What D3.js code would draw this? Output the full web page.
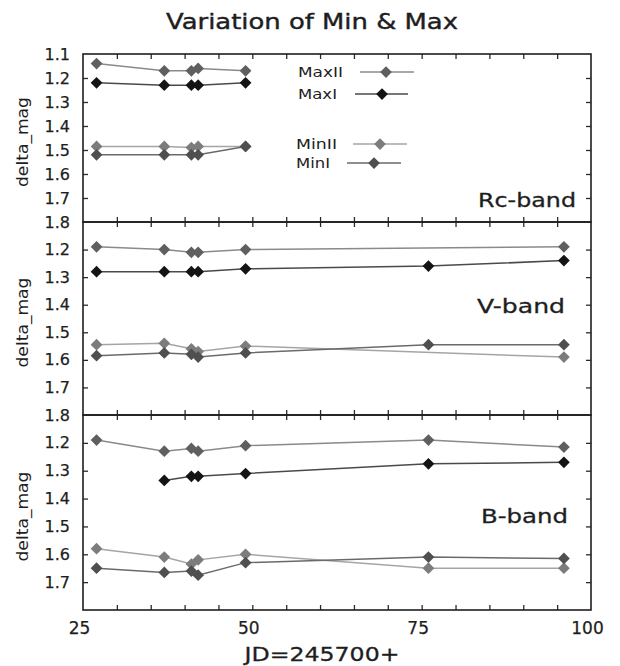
<!DOCTYPE html>
<html>
<head>
<meta charset="utf-8">
<script src="https://cdn.jsdelivr.net/npm/d3@7"></script>
<style>
  body { margin: 0; background: #fff; }
  text { font-family: "DejaVu Sans", sans-serif; fill: #1e1e1e; }
</style>
</head>
<body>
<div id="chart"></div>
<script>
// Observation dates (JD - 2457000)
var jd = [27, 37, 41, 42, 49, 76, 96];

var bandNames = ["Rc-band", "V-band", "B-band"];
var seriesNames = ["MaxII", "MaxI", "MinII", "MinI"];

// Rc-band (no data after JD 49)
var rcMaxII = [1.14, 1.17, 1.17, 1.16, 1.17, null, null];
var rcMaxI  = [1.22, 1.23, 1.23, 1.23, 1.22, null, null];
var rcMinII = [1.485, 1.485, 1.49, 1.485, 1.485, null, null];
var rcMinI  = [1.52, 1.52, 1.52, 1.52, 1.485, null, null];

// V-band
var vMaxII = [1.19, 1.20, 1.21, 1.21, 1.20, null, 1.19];
var vMaxI  = [1.28, 1.28, 1.28, 1.28, 1.27, 1.26, 1.24];
var vMinII = [1.545, 1.54, 1.56, 1.57, 1.55, null, 1.59];
var vMinI  = [1.585, 1.575, 1.58, 1.59, 1.575, 1.545, 1.545];

// B-band
var bMaxII = [1.19, 1.23, 1.22, 1.23, 1.21, 1.19, 1.215];
var bMaxI  = [null, 1.335, 1.32, 1.32, 1.31, 1.275, 1.27];
var bMinII = [1.58, 1.61, 1.635, 1.62, 1.60, 1.65, 1.65];
var bMinI  = [1.65, 1.665, 1.66, 1.675, 1.63, 1.61, 1.615];

var bandData = [
    [rcMaxII, rcMaxI, rcMinII, rcMinI],
    [vMaxII, vMaxI, vMinII, vMinI],
    [bMaxII, bMaxI, bMinII, bMinI]
];

var xTickValues = [25, 50, 75, 100];
var yTickValues = [1.1, 1.2, 1.3, 1.4, 1.5, 1.6, 1.7, 1.8];

// styles per series
var markerColor = ["#5f5f5f", "#141414", "#7c7c7c", "#4f4f4f"];
var lineColor = ["#8a8a8a", "#4a4a4a", "#a5a5a5", "#6a6a6a"];

// layout
var svgWidth = 620;
var svgHeight = 666;
var plotLeft = 83;
var plotRight = 591;
var panels = [
    {top: 54, bottom: 222, labels: [1.1, 1.2, 1.3, 1.4, 1.5, 1.6, 1.7, 1.8]},
    {top: 222, bottom: 415, labels: [1.2, 1.3, 1.4, 1.5, 1.6, 1.7, 1.8]},
    {top: 415, bottom: 610, labels: [1.2, 1.3, 1.4, 1.5, 1.6, 1.7]}
];
var bandLabelPos = [[576, 207, 98], [565, 313, 88], [568, 523, 87]];

var svg = d3.select("#chart")
    .append("svg")
    .attr("width", svgWidth)
    .attr("height", svgHeight);

var xScale = d3.scaleLinear()
    .domain([25, 100])
    .range([plotLeft, plotRight]);

var diamond = d3.symbol().type(d3.symbolDiamond2).size(88);

// title
svg.append("text")
    .attr("x", 312)
    .attr("y", 29)
    .attr("text-anchor", "middle")
    .attr("font-size", 21)
    .attr("textLength", 292)
    .attr("lengthAdjust", "spacingAndGlyphs")
    .attr("stroke", "#1e1e1e")
    .attr("stroke-width", 0.4)
    .text("Variation of Min & Max");

panels.forEach(function (p, i) {
    var yScale = d3.scaleLinear()
        .domain([1.1, 1.8])
        .range([p.top, p.bottom]);

    var g = svg.append("g");

    // inward ticks on all four sides
    var minorX = d3.range(30, 100, 5);
    g.append("g")
        .attr("transform", `translate(0, ${p.top})`)
        .call(d3.axisTop(xScale).tickValues(minorX).tickSize(-5).tickFormat(""));
    g.append("g")
        .attr("transform", `translate(0, ${p.bottom})`)
        .call(d3.axisBottom(xScale).tickValues(minorX).tickSize(-5).tickFormat(""));

    var leftAxis = d3.axisLeft(yScale)
        .tickValues(yTickValues)
        .tickSize(-5)
        .tickPadding(13)
        .tickFormat(function (d) {
            return p.labels.some(function (v) { return Math.abs(v - d) < 1e-9; }) ? d3.format(".1f")(d) : "";
        });
    g.append("g")
        .attr("class", "y-left")
        .attr("transform", `translate(${plotLeft}, 0)`)
        .call(leftAxis);
    g.append("g")
        .attr("transform", `translate(${plotRight}, 0)`)
        .call(d3.axisRight(yScale).tickValues(yTickValues.slice(1, -1)).tickSize(-5).tickFormat(""));

    g.selectAll(".domain").remove();
    g.selectAll(".tick line").attr("stroke", "#2a2a2a").attr("stroke-width", 1.3);
    g.selectAll(".y-left .tick text")
        .attr("font-size", 16)
        .attr("font-family", "DejaVu Sans")
        .attr("fill", "#1e1e1e")
        .attr("stroke", "#1e1e1e")
        .attr("stroke-width", 0.25);
    g.selectAll(".y-left .tick").filter(function (d) { return d === 1.1 || d === 1.8; })
        .select("line").remove();

    // frame
    g.append("rect")
        .attr("x", plotLeft)
        .attr("y", p.top)
        .attr("width", plotRight - plotLeft)
        .attr("height", p.bottom - p.top)
        .attr("fill", "none")
        .attr("stroke", "#1e1e1e")
        .attr("stroke-width", 1.6);

    // y axis title
    svg.append("text")
        .attr("transform", `translate(28, ${(p.top + p.bottom) / 2 + 4}) rotate(-90)`)
        .attr("text-anchor", "middle")
        .attr("font-size", 16)
        .attr("textLength", 90)
        .attr("lengthAdjust", "spacingAndGlyphs")
        .text("delta_mag");

    // band label
    svg.append("text")
        .attr("x", bandLabelPos[i][0])
        .attr("y", bandLabelPos[i][1])
        .attr("text-anchor", "end")
        .attr("font-size", 19)
        .attr("textLength", bandLabelPos[i][2])
        .attr("lengthAdjust", "spacingAndGlyphs")
        .attr("stroke", "#1e1e1e")
        .attr("stroke-width", 0.3)
        .text(bandNames[i]);

    // series lines and markers
    var line = d3.line()
        .x(function (d) { return xScale(d.x); })
        .y(function (d) { return yScale(d.y); });

    bandData[i].forEach(function (values, s) {
        var pts = jd.map(function (x, k) { return {x: x, y: values[k]}; })
            .filter(function (d) { return d.y !== null; });

        g.append("path")
            .datum(pts)
            .attr("d", line)
            .attr("fill", "none")
            .attr("stroke", lineColor[s])
            .attr("stroke-width", 1.5);

        g.append("g").selectAll("path")
            .data(pts)
            .enter()
            .append("path")
            .attr("d", diamond)
            .attr("transform", function (d) { return `translate(${xScale(d.x)}, ${yScale(d.y)})`; })
            .attr("fill", markerColor[s]);
    });
});

// x tick labels on the bottom panel
var lastBottom = panels[panels.length - 1].bottom;
var xLabels = svg.append("g")
    .attr("transform", `translate(0, ${lastBottom})`)
    .call(d3.axisBottom(xScale).tickValues(xTickValues).tickSize(0).tickPadding(12).tickFormat(d3.format("d")));
xLabels.select(".domain").remove();
xLabels.selectAll("text")
    .attr("font-size", 17)
    .attr("font-family", "DejaVu Sans")
    .attr("fill", "#1e1e1e")
    .attr("stroke", "#1e1e1e")
    .attr("stroke-width", 0.25)
    .attr("dx", -4);

svg.append("text")
    .attr("x", 322)
    .attr("y", 661)
    .attr("text-anchor", "middle")
    .attr("font-size", 20)
    .attr("textLength", 155)
    .attr("lengthAdjust", "spacingAndGlyphs")
    .attr("stroke", "#1e1e1e")
    .attr("stroke-width", 0.3)
    .text("JD=245700+");

// legend
var legendRows = [
    {y: 72, textX: 298, x1: 360, x2: 414, mx: 386, w: 45},
    {y: 94, textX: 298, x1: 355, x2: 408, mx: 382, w: 39},
    {y: 144, textX: 296, x1: 353, x2: 407, mx: 380, w: 41},
    {y: 163, textX: 296, x1: 347, x2: 401, mx: 374, w: 34}
];
var legend = svg.append("g");
legendRows.forEach(function (r, s) {
    legend.append("text")
        .attr("x", r.textX)
        .attr("y", r.y + 5)
        .attr("font-size", 14)
        .attr("textLength", r.w)
        .attr("lengthAdjust", "spacingAndGlyphs")
        .text(seriesNames[s]);
    legend.append("line")
        .attr("x1", r.x1).attr("x2", r.x2)
        .attr("y1", r.y).attr("y2", r.y)
        .attr("stroke", lineColor[s])
        .attr("stroke-width", 1.5);
    legend.append("path")
        .attr("d", diamond)
        .attr("transform", `translate(${r.mx}, ${r.y})`)
        .attr("fill", markerColor[s]);
});
</script>
</body>
</html>
